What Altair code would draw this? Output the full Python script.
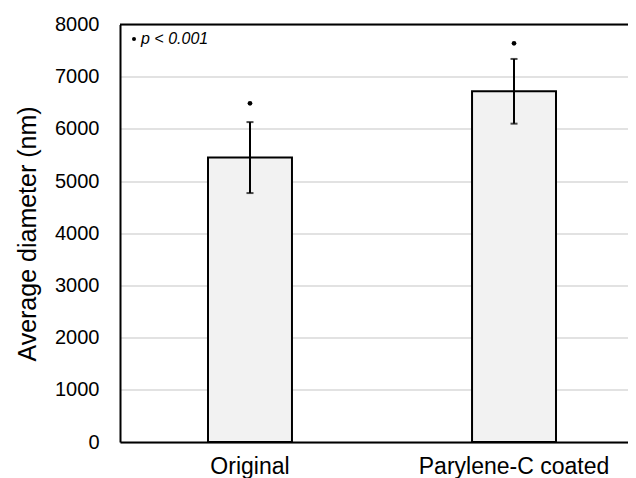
import altair as alt
import pandas as pd

# ---- data ----
categories = ["Original", "Parylene-C coated"]
means = [5450, 6720]
sds = [680, 620]
star_y = [6490, 7640]
y_ticks = [0, 1000, 2000, 3000, 4000, 5000, 6000, 7000, 8000]
note_text = ["p < 0.001"]
note_y = [7722]
top_value = [8000]

FONT = "Liberation Sans"

df = pd.DataFrame({
    "group": categories,
    "mean": means,
    "lo": [m - s for m, s in zip(means, sds)],
    "hi": [m + s for m, s in zip(means, sds)],
    "star": star_y,
})

xscale = alt.Scale(paddingInner=0.682, paddingOuter=0.303, align=0.55)
yscale = alt.Scale(domain=[0, 8000], nice=False)

x = alt.X(
    "group:N", sort=categories, scale=xscale,
    axis=alt.Axis(
        title=None, labelAngle=0, labelFontSize=23, labelPadding=13,
        labelLimit=400,
        ticks=False, tickSize=0, domainColor="black", domainWidth=2,
        labelColor="black", labelFont=FONT, grid=False,
    ),
)
y = alt.Y(
    "mean:Q", scale=yscale,
    axis=alt.Axis(
        values=y_ticks, format="d", title="Average diameter (nm)", titleFontSize=25,
        titleFont=FONT, titleFontWeight="normal", titleColor="black",
        titleX=-85, titleY=209, titleAngle=270, titleAlign="center",
        titleBaseline="alphabetic", titleLimit=400,
        labelFontSize=20, labelPadding=21, labelColor="black", labelFont=FONT,
        ticks=False, tickSize=0, grid=True, gridColor="#d9d9d9", gridWidth=1.5,
        domainColor="black", domainWidth=2,
    ),
)

base = alt.Chart(df)

bars = base.mark_bar(fill="#f2f2f2", stroke="black", strokeWidth=2).encode(x=x, y=y)
err = base.mark_rule(color="black", strokeWidth=2).encode(x=x, y="lo:Q", y2="hi:Q")
cap_lo = base.mark_tick(color="black", size=7, thickness=2).encode(x=x, y="lo:Q")
cap_hi = base.mark_tick(color="black", size=7, thickness=2).encode(x=x, y="hi:Q")
stars = base.mark_point(filled=True, size=22, color="black", opacity=1).encode(x=x, y="star:Q")

top_line = alt.Chart(pd.DataFrame({"v": top_value})).mark_rule(
    color="black", strokeWidth=2
).encode(y="v:Q")

note_df = pd.DataFrame({"t": note_text, "y": note_y})
note_dot = alt.Chart(note_df).mark_point(
    filled=True, size=16, color="black", opacity=1
).encode(x=alt.value(14), y="y:Q")
note = alt.Chart(note_df).mark_text(
    align="left", baseline="middle", fontSize=16, fontStyle="italic",
    font=FONT, color="black",
).encode(x=alt.value(21), y="y:Q", text="t:N")

chart = alt.layer(bars, err, cap_lo, cap_hi, stars, top_line, note_dot, note).properties(
    width=508, height=417.5,
    autosize=alt.AutoSizeParams(type="none"),
    padding={"left": 112, "top": 16.5, "right": 0, "bottom": 38},
).configure_view(stroke=None).configure(font=FONT, background="white")

chart.save("out.html", embed_options={"renderer": "svg", "actions": False})
